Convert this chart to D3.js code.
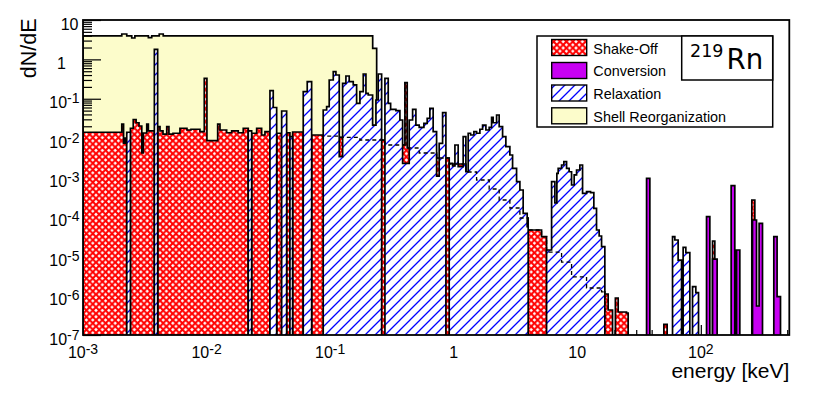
<!DOCTYPE html>
<html><head><meta charset="utf-8">
<script src="https://cdn.jsdelivr.net/npm/d3@7"></script>
<style>body{margin:0;background:#fff}svg{display:block}text{font-family:"Liberation Sans",Arial,sans-serif;fill:#000}</style>
</head><body>
<svg id="c" width="830" height="394"></svg>
<script>
// bins: [lowEdge keV, highEdge keV, dN/dE]
const shellReorg = [
 [0.001,0.00206,3.93],[0.00206,0.00226,4.41],[0.00226,0.00248,3.93],[0.00248,0.00263,3.49],
 [0.00263,0.00338,3.93],[0.00338,0.0036,3.55],[0.0036,0.00414,3.93],[0.00414,0.00446,4.41],
 [0.00446,0.221,3.93],[0.221,0.238,1.91]
];
const shakeOff = [
 [0.001,0.00206,0.0141],[0.00206,0.00213,0.0228],[0.00213,0.00219,0.0075],[0.00219,0.00226,0.0100],
 [0.00242,0.00255,0.0178],[0.00255,0.00269,0.0297],[0.00269,0.00284,0.0246],[0.00284,0.00299,0.0203],
 [0.00299,0.00308,0.0042],[0.00308,0.00328,0.0135],[0.00328,0.00338,0.0228],[0.00338,0.00378,0.0152],
 [0.00402,0.0042,0.0195],[0.0042,0.00444,0.0152],[0.00444,0.00476,0.0127],[0.00476,0.00496,0.0195],
 [0.00496,0.00535,0.0127],[0.00535,0.00609,0.0133],[0.00609,0.00694,0.0178],[0.00694,0.00748,0.0161],
 [0.00748,0.00884,0.0168],[0.00884,0.00958,0.0146],[0.00958,0.01007,0.331],[0.01007,0.0123,0.0086],
 [0.0123,0.01284,0.0228],[0.01284,0.01454,0.0161],[0.01454,0.01596,0.0137],[0.01596,0.01805,0.0152],
 [0.01805,0.01981,0.0137],[0.01981,0.02175,0.0178],[0.02317,0.02543,0.0133],[0.02543,0.02791,0.0178],
 [0.02791,0.02969,0.0120],[0.02969,0.03258,0.0146],[0.03693,0.04052,0.0133],[0.04447,0.04728,0.0137],
 [0.04971,0.06059,0.0143],[0.07085,0.0879,0.0120],
 [0.0879,0.1185,0.0113],[0.1185,0.1742,0.0104],[0.1742,0.2776,0.00897],[0.2776,0.4029,0.00669],
 [0.4029,0.4206,0.256],[0.4206,0.5257,0.00561],[0.5257,0.7272,0.00419],[0.7272,0.9196,0.00313],
 [0.9196,1.255,0.0022],[1.255,1.532,0.00138],[1.532,1.937,0.000864],[1.937,2.334,0.00051],
 [2.334,2.849,0.000268],[2.849,3.433,0.000168],[3.433,4.007,0.0000936],[4.007,5.142,0.0000464],
 [5.142,5.645,0.0000314],[5.645,6.197,0.0000128],[6.197,7.464,0.0000128],[7.464,8.993,0.0000071],
 [8.993,11.89,0.000003],[11.89,15.73,0.00000156],[15.73,16.72,0.00000124],[16.72,17.78,0.0000011],
 [17.78,19.3,4.31e-7],[20.34,21.43,8.7e-7],[21.43,25.05,3.84e-7],[25.05,25.81,3.62e-7],
 [50.22,53.39,1.87e-7],[124.4,129.8,0.0000244],[258.6,273.5,0.000268]
];
const conversion = [
 [36.38,38.68,0.000954],[111.2,118.3,0.000101],[124.4,135.5,0.0000085],[175.9,188.4,0.000619],
 [194.5,206.8,0.0000144],[262.0,282.3,0.0000833],[282.3,296.3,5.45e-7],[296.3,315.6,0.0000687],
 [389.6,414.2,0.0000314],[414.2,441.4,9.39e-7]
];
const relaxation = [
 [0.00226,0.00242,0.0141],[0.00378,0.00402,1.80],[0.02175,0.02317,0.0152],
 [0.03258,0.03464,0.160],[0.03464,0.03693,0.0599],[0.04052,0.04447,0.0489],[0.04728,0.04971,0.0109],
 [0.06059,0.06527,0.151],[0.06527,0.07085,0.271],
 [0.0879,0.0937,0.0518],[0.0937,0.0983,0.0628],[0.0983,0.106,0.299],[0.106,0.1114,0.486],
 [0.1114,0.1185,0.401],[0.1185,0.1262,0.00338],[0.1262,0.1342,0.247],[0.1342,0.1427,0.378],
 [0.1427,0.1538,0.271],[0.1538,0.1638,0.224],[0.1638,0.1742,0.0766],[0.1742,0.1853,0.151],
 [0.1853,0.1949,0.425],[0.1949,0.2034,0.1375],[0.2034,0.2207,0.1245],[0.2207,0.2348,0.0215],
 [0.2348,0.245,0.0929],[0.245,0.2611,0.425],
 [0.2776,0.2952,0.331],[0.2952,0.3087,0.0766],[0.3087,0.3407,0.054],[0.3407,0.367,0.0497],
 [0.367,0.386,0.0289],[0.386,0.4365,0.00229],[0.4365,0.465,0.0289],[0.465,0.4944,0.054],
 [0.4944,0.5257,0.0215],[0.5257,0.5738,0.0188],[0.5738,0.6102,0.0238],[0.6102,0.6416,0.0319],
 [0.6416,0.6822,0.0572],[0.6822,0.7272,0.0146],[0.7272,0.7631,0.00109],[0.7631,0.8131,0.00739],
 [0.8131,0.8647,0.0442],
 [0.9196,0.9797,0.00229],[0.9797,1.023,0.00196],[1.023,1.087,0.00669],[1.087,1.193,0.00188],
 [1.193,1.255,0.0109],[1.255,1.31,0.0014],[1.31,1.37,0.0133],[1.37,1.457,0.012],
 [1.457,1.532,0.0146],[1.532,1.629,0.0133],[1.629,1.713,0.0168],[1.713,1.822,0.0215],
 [1.822,1.937,0.0161],[1.937,2.026,0.0188],[2.026,2.087,0.0338],[2.087,2.224,0.0246],
 [2.224,2.334,0.0387],[2.334,2.487,0.0195],[2.487,2.644,0.0109],[2.644,2.849,0.00606],
 [2.849,2.996,0.00373],[2.996,3.228,0.00171],[3.228,3.433,0.000782],[3.433,3.65,0.000481],
 [3.65,3.933,0.000123],[3.933,4.007,0.0000563],
 [5.645,6.197,0.0000144],[6.197,6.59,0.000782],[6.59,6.839,0.000225],[6.839,7.007,0.00128],
 [7.007,7.464,0.00171],[7.464,7.791,0.00208],[7.791,8.193,0.00252],[8.193,8.6,0.00171],
 [8.6,8.993,0.0014],[8.993,9.441,0.000645],[9.441,9.872,0.00116],[9.872,10.5,0.00155],
 [10.5,11.04,0.00208],[11.04,11.89,0.000397],[11.89,12.81,0.000436],[12.81,13.62,0.000411],
 [13.62,14.32,0.000165],[14.32,15.04,0.0000464],[15.04,15.73,0.0000327],[15.73,16.72,0.0000175],
 [59.02,61.61,0.0000314],[61.61,65.51,0.0000259],[65.51,69.81,0.000008],
 [71.92,75.62,0.0000169],[75.62,81.47,0.0000123],
 [85.66,91.09,0.00000169],[91.09,95.8,0.00000119]
];
const xTickValues = [0.001,0.01,0.1,1,10,100];
const xTickLabels = ["10^-3","10^-2","10^-1","1","10","10^2"];
const yTickValues = [10,1,0.1,0.01,0.001,1e-4,1e-5,1e-6,1e-7];
const yTickLabels = ["10","1","10^-1","10^-2","10^-3","10^-4","10^-5","10^-6","10^-7"];
const legendLabels = ["Shake-Off","Conversion","Relaxation","Shell Reorganization"];

const L=83,R=789.3,T=20,B=335;
const x = d3.scaleLog().domain([0.001,520]).range([L,R]);
const y = d3.scaleLog().domain([1e-7,10]).range([B,T]);
const svg = d3.select("#c");
const defs = svg.append("defs");
defs.append("clipPath").attr("id","clip").append("rect").attr("x",L).attr("y",T).attr("width",R-L).attr("height",B-T);
const P = 6.4;
const xh = defs.append("pattern").attr("id","xhatch").attr("patternUnits","userSpaceOnUse").attr("width",P).attr("height",P);
xh.append("rect").attr("width",P).attr("height",P).attr("fill","#fff");
xh.append("path").attr("d",`M-1,-1 L${P+1},${P+1} M${P+1},-1 L-1,${P+1}`).attr("stroke","#ff0000").attr("stroke-width",2.1);
const H = 10;
const hp = defs.append("pattern").attr("id","hatch").attr("patternUnits","userSpaceOnUse").attr("width",H).attr("height",H);
hp.append("rect").attr("width",H).attr("height",H).attr("fill","#fff");
hp.append("path").attr("d",`M-1,${H+1} L${H+1},-1 M-1,1 L1,-1 M${H-1},${H+1} L${H+1},${H-1}`).attr("stroke","#0000ff").attr("stroke-width",1.3);

function stepPath(bins){
  const s = bins.slice().sort((a,b)=>a[0]-b[0]);
  let d="", prevHi=null;
  for (const [lo,hi,v] of s){
    const x0=x(lo), x1=x(hi), yy=y(Math.max(v,1e-7));
    if (prevHi===null || Math.abs(lo-prevHi)>1e-9*hi){
      if (prevHi!==null) d+=`L${x(prevHi)},${B}`;
      d+=`M${x0},${B}L${x0},${yy}`;
    } else d+=`L${x0},${yy}`;
    d+=`L${x1},${yy}`;
    prevHi=hi;
  }
  return d+`L${x(prevHi)},${B}`;
}
const plot = svg.append("g").attr("clip-path","url(#clip)");
const OUT = 1.7;
plot.append("path").attr("d",stepPath(shellReorg)).attr("fill","#fcfccb").attr("stroke","#000").attr("stroke-width",OUT);

// axis ticks (drawn after the background histogram)
const minorX = x.ticks().filter(v=>!xTickValues.includes(v) && v<=520);
const minorY = y.ticks().filter(v=>!yTickValues.some(t=>Math.abs(t-v)/t<1e-6));
function clean(g){g.select(".domain").remove(); g.selectAll("line").attr("stroke","#000").attr("stroke-width",1.2);}
svg.append("g").attr("transform",`translate(${L},0)`).call(d3.axisLeft(y).tickValues(minorY).tickSize(-9).tickFormat("")).call(clean);
svg.append("g").attr("transform",`translate(${L},0)`).call(d3.axisLeft(y).tickValues(yTickValues).tickSize(-18).tickFormat("")).call(clean);
svg.append("g").attr("transform",`translate(0,${B})`).call(d3.axisBottom(x).tickValues(minorX).tickSize(-5).tickFormat("")).call(clean);
svg.append("g").attr("transform",`translate(0,${B})`).call(d3.axisBottom(x).tickValues(xTickValues).tickSize(-10).tickFormat("")).call(clean);

const plot2 = svg.append("g").attr("clip-path","url(#clip)");
plot2.append("path").attr("d",stepPath(shakeOff)).attr("fill","url(#xhatch)").attr("stroke","#000").attr("stroke-width",OUT);
plot2.append("path").attr("d",stepPath(conversion)).attr("fill","#c800f2").attr("stroke","#000").attr("stroke-width",OUT);
plot2.append("path").attr("d",stepPath(relaxation)).attr("fill","url(#hatch)").attr("stroke","#000").attr("stroke-width",OUT);
plot2.append("path").attr("d",stepPath(shakeOff.filter(b=>b[0]>=0.0879 && b[1]<=17))).attr("fill","none")
  .attr("stroke","#000").attr("stroke-width",1.3).attr("stroke-dasharray","4,3");

svg.append("rect").attr("x",L).attr("y",T).attr("width",R-L).attr("height",B-T).attr("fill","none").attr("stroke","#000").attr("stroke-width",1.8);

// tick labels
function label(g, txt, xx, yy, anchor, main, sup, raise){
  const t = g.append("text").attr("x",xx).attr("y",yy).attr("text-anchor",anchor).style("font-size",main+"px");
  const parts = txt.split("^");
  t.append("tspan").text(parts[0]);
  if (parts[1]) t.append("tspan").attr("dy",-raise).style("font-size",sup+"px").text(parts[1]);
}
const lab = svg.append("g");
xTickValues.forEach((v,i)=>label(lab, xTickLabels[i], x(v), 358, "middle", 16, 14, 4.5));
yTickValues.forEach((v,i)=>{
  const t = yTickLabels[i];
  if (t.includes("^")) label(lab, t, 79.5, y(v)+9.5, "end", 16, 14, 5);
  else if (t==="1") label(lab, t, 57, y(v)+9.2, "start", 16, 14, 5);
  else label(lab, t, 78.5, y(v)+10, "end", 16, 14, 5);
});
svg.append("text").attr("transform","translate(36,18.5) rotate(-90)").attr("text-anchor","end").style("font-size","21.5px").text("dN/dE");
svg.append("text").attr("x",789.3).attr("y",377.5).attr("text-anchor","end").style("font-size","21px").text("energy [keV]");

// legend
const lg = svg.append("g");
lg.append("rect").attr("x",537).attr("y",36).attr("width",235.7).attr("height",91).attr("fill","#fff").attr("stroke","#000").attr("stroke-width",1.5);
const swFill = ["url(#xhatch)","#c800f2","url(#hatch)","#fcfccb"];
const swY = [39.5,62.5,85,107.8];
const txY = [54,76.3,99.3,121.7];
legendLabels.forEach((s,i)=>{
  lg.append("rect").attr("x",551.7).attr("y",swY[i]).attr("width",35).attr("height",16).attr("fill",swFill[i]).attr("stroke","#000").attr("stroke-width",1.4);
  lg.append("text").attr("x",593.3).attr("y",txY[i]).style("font-size","14.4px").text(s);
});
lg.append("rect").attr("x",681.7).attr("y",36).attr("width",91).attr("height",44).attr("fill","#fff").attr("stroke","#000").attr("stroke-width",1.5);
lg.append("text").attr("x",690).attr("y",57.3).style("font-family","DejaVu Sans").style("font-size","17.5px").text("219");
lg.append("text").attr("x",726.5).attr("y",69.3).style("font-family","DejaVu Sans").style("font-size","27.6px").text("Rn");
</script>
</body></html>
